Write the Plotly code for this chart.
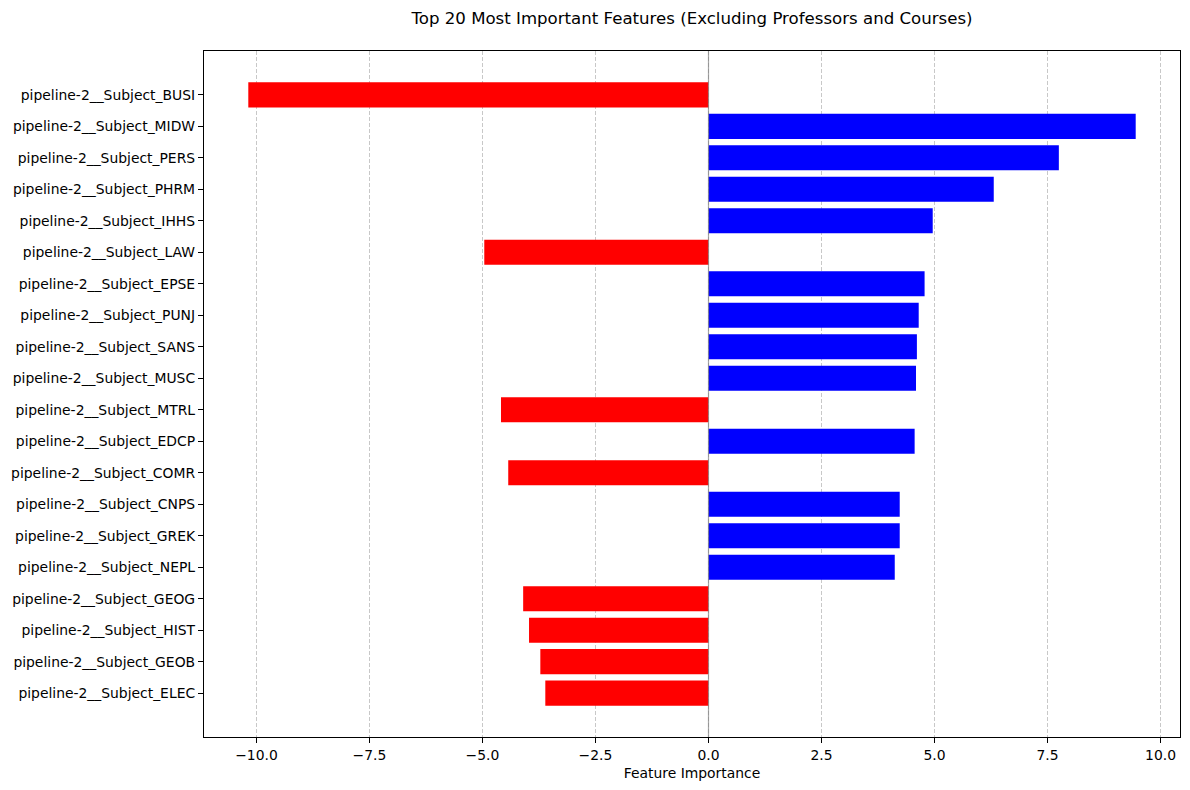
import plotly.graph_objects as go

features = ["BUSI", "MIDW", "PERS", "PHRM", "IHHS", "LAW", "EPSE", "PUNJ", "SANS", "MUSC",
            "MTRL", "EDCP", "COMR", "CNPS", "GREK", "NEPL", "GEOG", "HIST", "GEOB", "ELEC"]
labels = ["pipeline-2__Subject_" + f for f in features]
importance = [-10.18, 9.45, 7.75, 6.31, 4.96, -4.96, 4.78, 4.65, 4.61, 4.59,
              -4.59, 4.56, -4.43, 4.23, 4.23, 4.12, -4.10, -3.97, -3.72, -3.61]
colors = ["red" if v < 0 else "blue" for v in importance]

x_ticks = [-10.0, -7.5, -5.0, -2.5, 0.0, 2.5, 5.0, 7.5, 10.0]
x_tick_text = ["\u221210.0", "\u22127.5", "\u22125.0", "\u22122.5", "0.0", "2.5", "5.0", "7.5", "10.0"]

FONT = "DejaVu Sans"
W, H = 1182, 782
L, R, T, B = 196, 10, 43, 53

fig = go.Figure()
fig.add_trace(go.Bar(
    x=importance, y=labels, orientation="h",
    marker=dict(color=colors, line=dict(width=0)),
    width=0.8, showlegend=False,
))

n = len(labels)
fig.add_shape(type="line", xref="x", yref="paper", x0=0, x1=0, y0=0, y1=1,
              line=dict(color="rgba(128,128,128,0.7)", width=1.2), layer="above")

fig.update_layout(
    width=W, height=H,
    margin=dict(l=L, r=R, t=T, b=B, pad=0),
    paper_bgcolor="white", plot_bgcolor="white",
    font=dict(family=FONT, size=13.9, color="black"),
    bargap=0.2,
    title=dict(text="Top 20 Most Important Features (Excluding Professors and Courses)",
               x=(L + (W - R)) / 2 / W, xanchor="center", y=1 - 10 / H, yanchor="middle",
               font=dict(family=FONT, size=16.6, color="black")),
    xaxis=dict(
        range=[-11.16, 10.43], tickvals=x_ticks, ticktext=x_tick_text, automargin=False,
        showgrid=True, gridcolor="#c8c8c8", gridwidth=1, griddash="4px,2px",
        zeroline=False, showline=True, linecolor="black", linewidth=1.2, mirror=True,
        ticks="outside", ticklen=5, tickcolor="black", tickwidth=1,
        title=dict(text="Feature Importance", standoff=6, font=dict(size=13.9)),
    ),
    yaxis=dict(
        type="category", categoryorder="array", categoryarray=labels,
        range=[n - 1 + 0.4 + 0.99, -0.4 - 0.99], automargin=False,
        showgrid=False, zeroline=False, showline=True, linecolor="black", linewidth=1.2, mirror=True,
        ticks="outside", ticklen=5, tickcolor="black", tickwidth=1,
    ),
)

fig.write_html("out.html")
